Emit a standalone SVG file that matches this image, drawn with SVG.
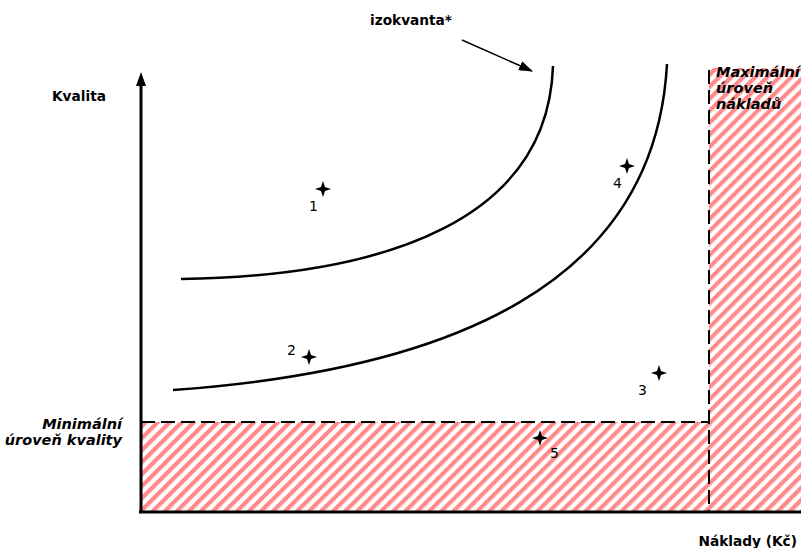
<svg xmlns="http://www.w3.org/2000/svg" width="801" height="548" viewBox="0 0 801 548">
<style>
.lbl{font-family:"DejaVu Sans","Verdana",sans-serif;font-weight:bold;font-size:13.7px;fill:#000}
.it{font-style:italic;font-size:14.5px}
.num{font-family:"DejaVu Sans","Verdana",sans-serif;font-size:14px;fill:#000}
.curve{fill:none;stroke:#000;stroke-width:2.5}
.dash{fill:none;stroke:#000;stroke-width:2;stroke-dasharray:14,6}
.axis{fill:none;stroke:#000;stroke-width:3}
</style>
<defs>
<pattern id="hatch" patternUnits="userSpaceOnUse" width="8.5" height="8.5" patternTransform="rotate(45)">
<rect width="8.5" height="8.5" fill="#fff"/>
<rect width="4.2" height="8.5" fill="#ff8a8a"/>
</pattern>
<path id="star" d="M0,-8 L2,-2 L8,0 L2,2 L0,8 L-2,2 L-8,0 L-2,-2 Z" fill="#000"/>
<marker id="ah" markerWidth="14" markerHeight="10" refX="13" refY="5" orient="auto" markerUnits="userSpaceOnUse">
<path d="M0,0 L14,5 L0,10 Z" fill="#000"/>
</marker>
</defs>
<rect width="801" height="548" fill="#fff"/>
<g id="zones">
<rect x="141" y="422" width="660" height="90" fill="url(#hatch)"/>
<rect x="709" y="68" width="92" height="444" fill="url(#hatch)"/>
</g>
<g id="connectors">
<line class="dash" x1="141" y1="422" x2="709" y2="422"/>
<line class="dash" x1="709" y1="70" x2="709" y2="512"/>
<line class="axis" x1="141" y1="512" x2="141" y2="84"/>
<path d="M141,72 L136,86 L146,86 Z" fill="#000"/>
<line class="axis" x1="139" y1="512" x2="801" y2="512"/>
<path class="curve" d="M181,279 C 390,276 548,218 553,66"/>
<path class="curve" d="M173,390 C 450,370 655,285 667,64"/>
<line x1="462" y1="40" x2="532" y2="71" stroke="#000" stroke-width="1.5" marker-end="url(#ah)"/>
</g>
<g id="p1"><use href="#star" x="323" y="189"/><text class="num" x="309" y="211">1</text></g>
<g id="p2"><use href="#star" x="309" y="357"/><text class="num" x="287" y="355">2</text></g>
<g id="p3"><use href="#star" x="659" y="373"/><text class="num" x="638" y="395">3</text></g>
<g id="p4"><use href="#star" x="627" y="166"/><text class="num" x="613" y="188">4</text></g>
<g id="p5"><use href="#star" x="540" y="438"/><text class="num" x="550" y="458">5</text></g>
<g id="labels">
<text class="lbl" x="370" y="25">izokvanta*</text>
<text class="lbl" x="52" y="101">Kvalita</text>
<text class="lbl" x="797" y="546" text-anchor="end">Náklady (Kč)</text>
<text class="lbl it" x="122" y="429" text-anchor="end">Minimální</text>
<text class="lbl it" x="122" y="445" text-anchor="end">úroveň kvality</text>
<text class="lbl it" x="716" y="77">Maximální</text>
<text class="lbl it" x="716" y="93">úroveň</text>
<text class="lbl it" x="716" y="109">nákladů</text>
</g>
</svg>
